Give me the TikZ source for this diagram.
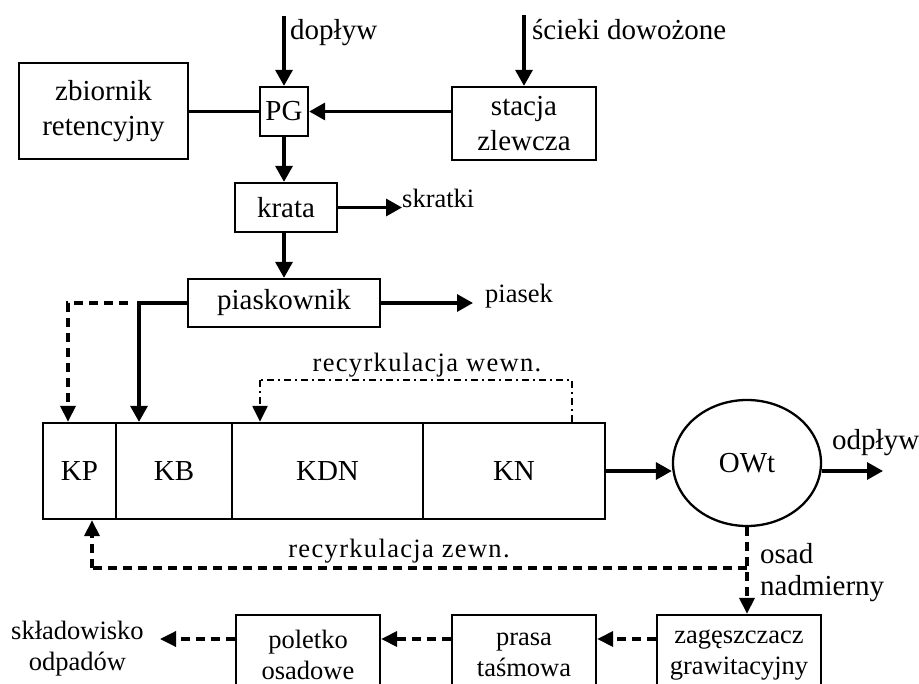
\documentclass[tikz,border=0pt]{standalone}
\usepackage{fontspec}
\setmainfont{Liberation Serif}
\usetikzlibrary{arrows.meta,shapes.geometric}
\newcommand\fbig{\fontsize{29}{35}\selectfont}
\newcommand\fosad{\fontsize{29}{32}\selectfont}
\newcommand\fsmall{\fontsize{26.5}{31}\selectfont}
\newcommand\fspaced{\fontsize{26.5}{31}\selectfont\addfontfeatures{LetterSpace=5}}
\begin{document}
\begin{tikzpicture}[x=1pt,y=-1pt,
  box/.style={draw,line width=2.3pt,rectangle,inner sep=0pt,align=center,font=\fbig},
  sbox/.style={draw,line width=2.3pt,rectangle,inner sep=0pt,align=center,font=\fsmall},
  lbl/.style={inner sep=0pt,font=\fbig,align=left},
  slbl/.style={inner sep=0pt,font=\fsmall,align=center},
  arr/.style={line width=3.3pt,-{Triangle[length=16pt,width=17pt]}},
  thinline/.style={line width=2.2pt},
  dsh/.style={line width=3.4pt,dash pattern=on 9pt off 6pt},
  darr/.style={dsh,-{Triangle[length=16pt,width=15pt]}},
  dd/.style={line width=2.3pt,dash pattern=on 7pt off 4pt on 2pt off 4pt},
  ddarr/.style={dd,-{Triangle[length=16pt,width=15pt]}}
]
\useasboundingbox (0,0) rectangle (919,684);
% top row
\node[box,minimum width=169pt,minimum height=96pt] (zbi) at (103.5,111) {zbiornik\\retencyjny};
\node[box,minimum width=48pt,minimum height=49pt] (PG) at (284,111.5) {PG};
\node[box,minimum width=144pt,minimum height=73pt] (sta) at (524,123.5) {stacja\\zlewcza};
\node[box,minimum width=102pt,minimum height=49pt] (kra) at (286,207.5) {krata};
\node[box,minimum width=192pt,minimum height=48pt] (pia) at (284,303) {piaskownik};
% tank
\node[box,minimum width=73pt,minimum height=96pt] (KP) at (79.5,471) {KP};
\node[box,minimum width=116pt,minimum height=96pt] (KB) at (174,471) {KB};
\node[box,minimum width=191pt,minimum height=96pt] (KDN) at (327.5,471) {KDN};
\node[box,minimum width=182pt,minimum height=96pt] (KN) at (514,471) {KN};
\node[draw,ellipse,line width=2.3pt,minimum width=148pt,minimum height=126pt,inner sep=0pt,font=\fbig] (OWt) at (747,463) {OWt};
% bottom row
\node[sbox,minimum width=164pt,minimum height=80pt] (zag) at (739,655) {zagęszczacz\\grawitacyjny};
\node[sbox,minimum width=144pt,minimum height=80pt] (pra) at (524,655) {prasa\\taśmowa};
\node[sbox,minimum width=144pt,minimum height=80pt] (pol) at (308,655) {poletko\\osadowe};
\node[slbl] (skl) at (77.5,649) {składowisko\\odpadów};
% labels
\node[lbl,anchor=base west] (ldop) at (290,40) {dopływ};
\node[lbl,anchor=base west] (lsci) at (532,40) {ścieki dowożone};
\node[slbl,anchor=base west] (lskr) at (402,208) {skratki};
\node[slbl,anchor=base west] (lpia) at (485,303) {piasek};
\node[lbl,anchor=base west] (lodp) at (832,450) {odpływ};
\node[lbl,font=\fosad,anchor=base west,align=left] (losad) at (760,595) {osad\\nadmierny};
\node[inner sep=0pt,font=\fspaced,anchor=base] (lwew) at (427,372) {recyrkulacja wewn.};
\node[inner sep=0pt,font=\fspaced,anchor=base] (lzew) at (399,558) {recyrkulacja zewn.};
% coordinates
\coordinate (dopin) at (284,16);
\coordinate (sciin) at (524,15);
\coordinate (pout) at (473,303);
\coordinate (odout) at (883,471);
\coordinate (jB) at (139,303);
\coordinate (jP) at (68,303);
\coordinate (wA) at (572,380);
\coordinate (wB) at (260,380);
\coordinate (jz) at (747,568);
\coordinate (zL) at (92,568);
% connectors
\draw[arr] (dopin) -- (PG.north);
\draw[arr] (sciin) -- (sta.north);
\draw[thinline] (zbi.east |- PG.west) -- (PG.west);
\draw[arr] (sta.west |- PG.east) -- (PG.east);
\draw[arr] (PG.south) -- (PG.south |- kra.north);
\draw[arr] (kra.east) -- (kra.east -| lskr.west);
\draw[arr] (PG.south |- kra.south) -- (PG.south |- pia.north);
\draw[arr] (pia.east) -- (pout);
\draw[arr] (pia.west) -- (jB) -- (jB |- KB.north);
\draw[darr] (128,303) -- (jP) -- (jP |- KP.north);
\draw[dd] (wA |- KN.north) -- (wA) -- (wB);
\draw[ddarr] (wB) -- (wB |- KDN.north);
\draw[arr] (KN.east) -- (KN.east -| OWt.west);
\draw[arr] (OWt.east |- KN.east) -- (odout);
\draw[darr] (OWt.south) -- (OWt.south |- zag.north);
\draw[dsh] (jz) -- (zL);
\draw[darr] (zL) -- (zL |- KP.south);
\draw[darr] (zag.west |- 0,639) -- (pra.east |- 0,639);
\draw[darr] (pra.west |- 0,639) -- (pol.east |- 0,639);
\draw[darr] (pol.west |- 0,639) -- (160,639);
\end{tikzpicture}
\end{document}
